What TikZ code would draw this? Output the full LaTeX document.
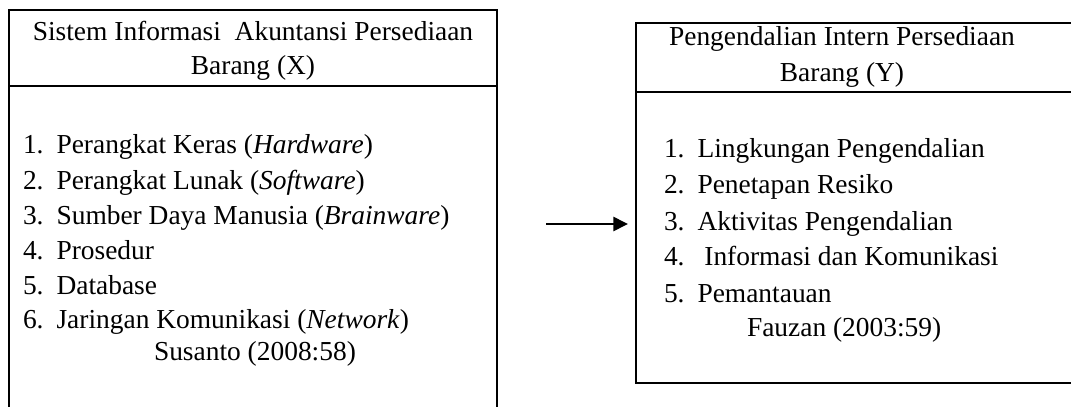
\documentclass[tikz,border=0pt]{standalone}
\usepackage{fontspec}
\setmainfont{Liberation Serif}
\usetikzlibrary{arrows.meta}
\newcommand{\itemno}[1]{\makebox[13.2pt][l]{#1}}
\tikzset{
  line/.style={anchor=base west, inner sep=0pt, font=\fontsize{10.8}{13}\selectfont},
  head/.style={anchor=base, inner sep=0pt, font=\fontsize{10.8}{13}\selectfont},
}
\begin{document}
\begin{tikzpicture}[x=0.3937pt, y=-0.3937pt, line width=0.8pt]
        \clip (0,0) rectangle (1071,407);
        \draw (9,420) -- (9,10) -- (497,10) -- (497,420);
        \draw (9,86) -- (497,86);
        \node (x title) at (253,40)[head]{Sistem Informasi\ \ Akuntansi Persediaan};
        \node (x var) at (253,75)[head]{Barang (X)};
        \node (x1) at (22,154)[line]{\itemno{1.}Perangkat Keras (\textit{Hardware})};
        \node (x2) at (22,189)[line]{\itemno{2.}Perangkat Lunak (\textit{Software})};
        \node (x3) at (22,224)[line]{\itemno{3.}Sumber Daya Manusia (\textit{Brainware})};
        \node (x4) at (22,259)[line]{\itemno{4.}Prosedur};
        \node (x5) at (22,294)[line]{\itemno{5.}Database};
        \node (x6) at (22,329)[line]{\itemno{6.}Jaringan Komunikasi (\textit{Network})};
        \node (x src) at (153,360)[line]{Susanto (2008:58)};

        \draw (1080,23) -- (636,23) -- (636,383) -- (1080,383);
        \draw (636,92) -- (1080,92);
        \node (y title) at (842,45)[head]{Pengendalian Intern Persediaan};
        \node (y var) at (842,81)[head]{Barang (Y)};
        \node (y1) at (663,157)[line]{\itemno{1.}Lingkungan Pengendalian};
        \node (y2) at (663,193)[line]{\itemno{2.}Penetapan Resiko};
        \node (y3) at (663,230)[line]{\itemno{3.}Aktivitas Pengendalian};
        \node (y4) at (663,266)[line]{\itemno{4.} Informasi dan Komunikasi};
        \node (y5) at (663,302)[line]{\itemno{5.}Pemantauan};
        \node (y src) at (746,337)[line]{Fauzan (2003:59)};

        \coordinate (arrow start) at (546,224);
        \coordinate (arrow end) at (628,224);
        \draw[-{Triangle[length=5.8pt, width=5.6pt]}] (arrow start) -- (arrow end);
\end{tikzpicture}
\end{document}
